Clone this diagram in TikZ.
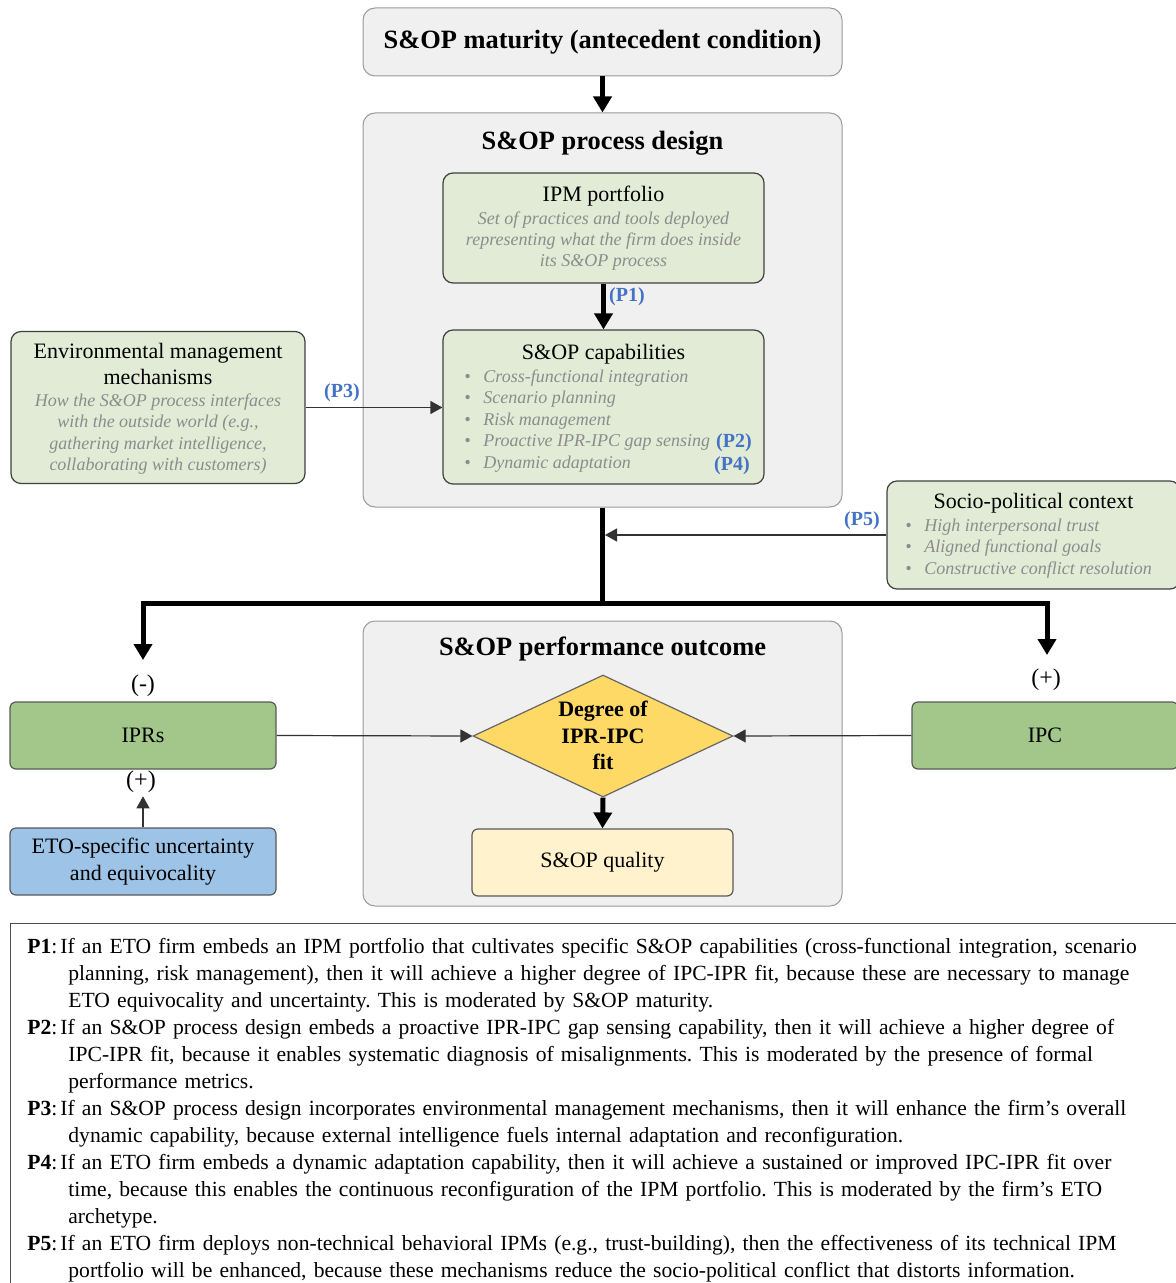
\documentclass[tikz,border=0pt]{standalone}
\usepackage{fontspec}
\setmainfont{Liberation Serif}
\usetikzlibrary{arrows.meta,shapes.geometric}
\definecolor{panelgrey}{HTML}{F0F0F0}
\definecolor{boxgreen}{HTML}{E2EBD6}
\definecolor{iprgreen}{HTML}{A3C68B}
\definecolor{etoblue}{HTML}{9DC3E6}
\definecolor{fitgold}{HTML}{FFD966}
\definecolor{qualityyellow}{HTML}{FFF2CC}
\definecolor{propblue}{HTML}{4472C4}
\definecolor{notegrey}{HTML}{8C8C8C}
\newcommand{\capitem}{\makebox[9.5pt][l]{\textbullet}}

\begin{document}
\begin{tikzpicture}[x=0.5pt,y=-0.5pt,
	grey_box/.style={rectangle,rounded corners=6pt,draw=black!40,fill=panelgrey,line width=0.5pt},
	green_box/.style={rectangle,rounded corners=5pt,draw=black!75,fill=boxgreen,line width=0.6pt},
	fill_box/.style={rectangle,rounded corners=3pt,draw=black!65,line width=0.6pt,align=center,minimum width=133pt,minimum height=33.5pt,font=\fontsize{11}{13.5}\selectfont},
	head_text/.style={font=\fontsize{13.2}{15}\selectfont\bfseries},
	title_text/.style={font=\fontsize{11}{13}\selectfont,align=center},
	note_text/.style={font=\fontsize{9}{10.7}\selectfont\itshape,text=notegrey,align=center,inner sep=0pt},
	prop_label/.style={font=\fontsize{10}{12}\selectfont\bfseries,text=propblue,inner sep=0pt},
	sign_text/.style={font=\fontsize{12}{14}\selectfont,inner sep=1.5pt},
	thick_arrow/.style={line width=2.5pt,-{Triangle[width=9pt,length=8pt]}},
	thin_arrow/.style={line width=0.6pt,draw=black!80,-{Triangle[width=6.5pt,length=6pt]}}]
	\useasboundingbox (0,0) rectangle (1176,1283);

	\node[grey_box,head_text,minimum width=239.5pt,minimum height=34pt] (maturity) at (602.5,42) {S\&OP maturity (antecedent condition)};
	\node[grey_box,minimum width=239.5pt,minimum height=197pt] (design) at (602.5,310) {};
	\node[head_text] (design_title) at (602.5,143) {S\&OP process design};
	\draw[thick_arrow] (maturity.south) -- (design.north);

	\node[green_box,minimum width=160.5pt,minimum height=55pt] (ipm) at (603.5,228) {};
	\node[title_text] (ipm_title) at (603.5,196) {IPM portfolio};
	\node[note_text] (ipm_note) at (603.5,241) {Set of practices and tools deployed\\representing what the firm does inside\\its S\&OP process};

	\node[green_box,minimum width=160.5pt,minimum height=77pt] (caps) at (603.5,407) {};
	\node[title_text] (caps_title) at (603.5,354) {S\&OP capabilities};
	\node[note_text,align=left,anchor=west] (caps_list) at (464,421) {\capitem Cross-functional integration\\\capitem Scenario planning\\\capitem Risk management\\\capitem Proactive IPR-IPC gap sensing\\\capitem Dynamic adaptation};
	\node[prop_label] (p2) at (734,443) {(P2)};
	\node[prop_label] (p4) at (732,466) {(P4)};
	\draw[thick_arrow] (ipm.south) -- (caps.north);
	\node[prop_label] (p1) at (627,297) {(P1)};

	\node[green_box,minimum width=147pt,minimum height=76pt] (env) at (158,407.5) {};
	\node[title_text] (env_title) at (158,364) {Environmental management\\mechanisms};
	\node[note_text] (env_note) at (158,434) {How the S\&OP process interfaces\\with the outside world (e.g.,\\gathering market intelligence,\\collaborating with customers)};
	\draw[thin_arrow] (env.east) -- (env.east -| caps.west);
	\node[prop_label] (p3) at (342,393) {(P3)};

	\node[green_box,minimum width=146.5pt,minimum height=54pt] (socio) at (1033.5,535) {};
	\node[title_text] (socio_title) at (1033.5,503) {Socio-political context};
	\node[note_text,align=left,anchor=west] (socio_list) at (905,548.5) {\capitem High interpersonal trust\\\capitem Aligned functional goals\\\capitem Constructive conflict resolution};

	\coordinate (split) at (602.5,603);
	\coordinate (p5_end) at (605,535);
	\coordinate (left_end) at (143,660);
	\coordinate (right_end) at (1047,655);
	\draw[thick_arrow] (design.south) -- (split) -| (left_end);
	\draw[thick_arrow] (split) -| (right_end);
	\draw[thin_arrow] (socio.west) -- (p5_end);
	\node[prop_label] (p5) at (862,521) {(P5)};

	\node[grey_box,minimum width=239.5pt,minimum height=142.5pt] (perf) at (602.5,763.5) {};
	\node[head_text] (perf_title) at (602.5,649) {S\&OP performance outcome};

	\node[sign_text] (minus_ipr) at (143,686) {(-)};
	\node[fill_box,fill=iprgreen] (iprs) at (143,735.5) {IPRs};
	\node[sign_text] (plus_ipr) at (141,782) {(+)};
	\node[fill_box,fill=etoblue] (eto) at (143,861.5) {ETO-specific uncertainty\\and equivocality};
	\draw[thin_arrow] (eto.north) -- (eto.north |- plus_ipr.south);

	\node[diamond,draw=black!60,fill=fitgold,minimum width=130pt,minimum height=61pt,inner sep=0pt,line width=0.6pt] (fit) at (603,736) {};
	\node[font=\fontsize{11}{13.25}\selectfont\bfseries,align=center] (fit_text) at (603,735.5) {Degree of\\IPR-IPC\\fit};
	\node[fill_box,fill=qualityyellow,minimum width=130.5pt] (quality) at (602.5,862.5) {S\&OP quality};
	\draw[thick_arrow] (fit.south) -- (quality.north);

	\node[sign_text] (plus_ipc) at (1046,680) {(+)};
	\node[fill_box,fill=iprgreen] (ipc) at (1045,735.5) {IPC};
	\draw[thin_arrow] (iprs.east) -- (fit.west);
	\draw[thin_arrow] (ipc.west) -- (fit.east);

	\node[rectangle,draw=black!70,line width=0.6pt,minimum width=585pt,minimum height=190pt,anchor=north west] (props_box) at (10,923) {};
	\node[anchor=north west,text width=600pt,align=left,inner sep=0pt,font=\fontsize{10.8}{13.5}\selectfont\frenchspacing] (props) at (27,938) {%
		\hangindent=20.5pt\hangafter=1\noindent\textbf{P1}:\hspace{1.5pt}If an ETO firm embeds an IPM portfolio that cultivates specific S\&OP capabilities (cross-functional integration, scenario\newline planning, risk management), then it will achieve a higher degree of IPC-IPR fit, because these are necessary to manage\newline ETO equivocality and uncertainty. This is moderated by S\&OP maturity.\par
		\hangindent=20.5pt\hangafter=1\noindent\textbf{P2}:\hspace{1.5pt}If an S\&OP process design embeds a proactive IPR-IPC gap sensing capability, then it will achieve a higher degree of\newline IPC-IPR fit, because it enables systematic diagnosis of misalignments. This is moderated by the presence of formal\newline performance metrics.\par
		\hangindent=20.5pt\hangafter=1\noindent\textbf{P3}:\hspace{1.5pt}If an S\&OP process design incorporates environmental management mechanisms, then it will enhance the firm's overall\newline dynamic capability, because external intelligence fuels internal adaptation and reconfiguration.\par
		\hangindent=20.5pt\hangafter=1\noindent\textbf{P4}:\hspace{1.5pt}If an ETO firm embeds a dynamic adaptation capability, then it will achieve a sustained or improved IPC-IPR fit over\newline time, because this enables the continuous reconfiguration of the IPM portfolio. This is moderated by the firm's ETO\newline archetype.\par
		\hangindent=20.5pt\hangafter=1\noindent\textbf{P5}:\hspace{1.5pt}If an ETO firm deploys non-technical behavioral IPMs (e.g., trust-building), then the effectiveness of its technical IPM\newline portfolio will be enhanced, because these mechanisms reduce the socio-political conflict that distorts information.\par};
\end{tikzpicture}
\end{document}
